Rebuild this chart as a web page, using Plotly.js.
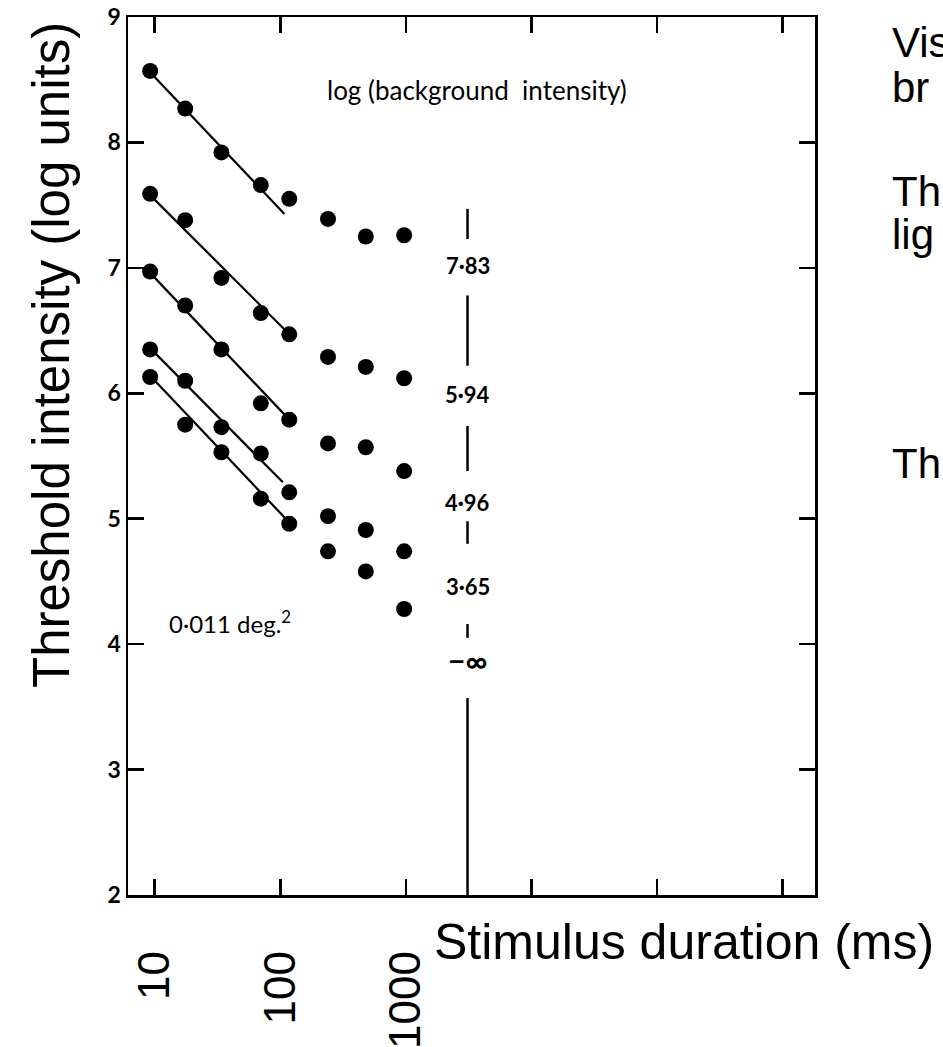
<!DOCTYPE html>
<html><head><meta charset="utf-8">
<script src="https://cdn.plot.ly/plotly-3.0.1.min.js"></script>
<style>html,body{margin:0;padding:0;overflow:hidden;background:#fff}#chart{width:943px;height:1047px}</style>
</head><body><div id="chart"></div>
<script>
// Stimulus durations (ms) of the measured columns
const durationsMs = [9.2, 17.5, 34, 70, 118, 240, 480, 970];
// Threshold intensity (log units) for each background intensity
const bg783 = [8.57, 8.27, 7.92, 7.66, 7.55, 7.39, 7.25, 7.26];
const bg594 = [7.59, 7.38, 6.92, 6.64, 6.47, 6.29, 6.21, 6.12];
const bg496 = [6.97, 6.70, 6.35, 5.92, 5.79, 5.60, 5.57, 5.38];
const bg365 = [6.35, 6.10, 5.73, 5.52, 5.21, 5.02, 4.91, 4.74];
const bgDark = [6.13, 5.75, 5.53, 5.16, 4.96, 4.74, 4.58, 4.28];
// Fitted slope -1 lines (start/end duration and level)
const fitStartMs = [9.4, 9.2, 9.2, 9.2, 9.2];
const fitEndMs = [108, 118, 118, 105, 118];
const fitStartLevel = [8.55, 7.58, 6.96, 6.36, 6.14];
const fitEndLevel = [7.43, 6.47, 5.79, 5.29, 4.97];
// Background intensity labels
const bgLabels = ['7·83', '5·94', '4·96', '3·65', '−∞'];
const bgLabelLevel = [7.02, 5.99, 5.13, 4.46, 3.87];
const separatorMs = 3100;
const separatorSegments = [[7.47, 7.23], [6.78, 6.22], [5.74, 5.38], [4.98, 4.80], [4.16, 4.05], [3.57, 2.0]];
// Axis ticks
const xTickVals = [10, 100, 1000];
const xTickText = ['10', '100', '1000'];
const xUnlabelledTicks = [10000, 100000, 1000000];
const yTickVals = [2, 3, 4, 5, 6, 7, 8, 9];

const allSeries = [bg783, bg594, bg496, bg365, bgDark];
const traces = [];
allSeries.forEach(function (ys, i) {
  traces.push({
    x: [fitStartMs[i], fitEndMs[i]], y: [fitStartLevel[i], fitEndLevel[i]],
    mode: 'lines', line: {color: '#000', width: 2.2}, hoverinfo: 'skip', showlegend: false
  });
  traces.push({
    x: durationsMs, y: ys, mode: 'markers', name: bgLabels[i],
    marker: {color: '#000', size: 16, line: {width: 0}}, showlegend: false
  });
});
const sepX = [], sepY = [];
separatorSegments.forEach(function (s) {
  sepX.push(separatorMs, separatorMs, null);
  sepY.push(s[0], s[1], null);
});
traces.push({x: sepX, y: sepY, mode: 'lines', line: {color: '#000', width: 2.5}, hoverinfo: 'skip', showlegend: false, connectgaps: false});

const L = 128, R = 815, T = 17, B = 895;
function px(xp) { return (xp - L) / (R - L); }
function py(yp) { return (B - yp) / (B - T); }

const scanFamily = 'Lato, "Open Sans", sans-serif';
const slideFamily = '"Liberation Sans", Arial, sans-serif';
const annotations = [
  {x: Math.log10(3680), y: 8.42, xref: 'x', yref: 'y', xanchor: 'center', yanchor: 'middle', text: 'log (background  intensity)', showarrow: false,
   font: {family: scanFamily, size: 26, color: '#000'}},
  {x: Math.log10(40), y: 4.18, xref: 'x', yref: 'y', xanchor: 'center', yanchor: 'middle', text: '0·011 deg.<sup>2</sup>', showarrow: false,
   font: {family: scanFamily, size: 24, color: '#000'}},
  {x: px(683.5), y: py(942), xref: 'paper', yref: 'paper', xanchor: 'center', yanchor: 'middle', text: 'Stimulus duration (ms)', showarrow: false,
   font: {family: slideFamily, size: 50, color: '#000'}},
  {x: px(52), y: py(355), xref: 'paper', yref: 'paper', xanchor: 'center', yanchor: 'middle', text: 'Threshold intensity (log units)', showarrow: false, textangle: -90,
   font: {family: slideFamily, size: 51, color: '#000'}}
];
bgLabels.forEach(function (t, i) {
  const big = t === '−∞';
  annotations.push({x: Math.log10(separatorMs), y: bgLabelLevel[i], xref: 'x', yref: 'y', xanchor: 'center', yanchor: 'middle', text: t, showarrow: false,
    font: {family: scanFamily, size: big ? 30 : 22, color: '#000', weight: 700}});
});
const slideText = [['Vis', 42], ['br', 88], ['Th', 192], ['lig', 235], ['Th', 463]];
slideText.forEach(function (s) {
  annotations.push({x: px(890), y: py(s[1]), xref: 'paper', yref: 'paper', xanchor: 'left', yanchor: 'middle', text: s[0], showarrow: false,
    font: {family: slideFamily, size: 42, color: '#000'}});
});

const layout = {
  width: 943, height: 1047,
  margin: {l: L, r: 943 - R, t: T, b: 1047 - B, pad: 0},
  paper_bgcolor: '#fff', plot_bgcolor: '#fff',
  showlegend: false,
  xaxis: {
    type: 'log', range: [Math.log10(6.13), Math.log10(1815000)],
    tickmode: 'array', tickvals: xTickVals, ticktext: xTickText, tickangle: -90,
    ticks: 'inside', ticklen: 16, tickwidth: 2.5, tickcolor: '#000',
    minor: {tickmode: 'array', tickvals: xUnlabelledTicks, ticks: 'inside', ticklen: 16, tickwidth: 2.5, tickcolor: '#000', showgrid: false},
    showline: true, linewidth: 2.5, linecolor: '#000', mirror: 'ticks',
    showgrid: false, zeroline: false, ticklabelstandoff: 36,
    tickfont: {family: slideFamily, size: 44, color: '#000'}
  },
  yaxis: {
    range: [2, 9], tickmode: 'array', tickvals: yTickVals,
    ticks: 'inside', ticklen: 16, tickwidth: 2.5, tickcolor: '#000',
    showline: true, linewidth: 2.5, linecolor: '#000', mirror: 'ticks',
    showgrid: false, zeroline: false,
    tickfont: {family: scanFamily, size: 23, color: '#000', weight: 700}
  },
  annotations: annotations
};
Plotly.newPlot('chart', traces, layout, {staticPlot: true, displayModeBar: false});
</script></body></html>
